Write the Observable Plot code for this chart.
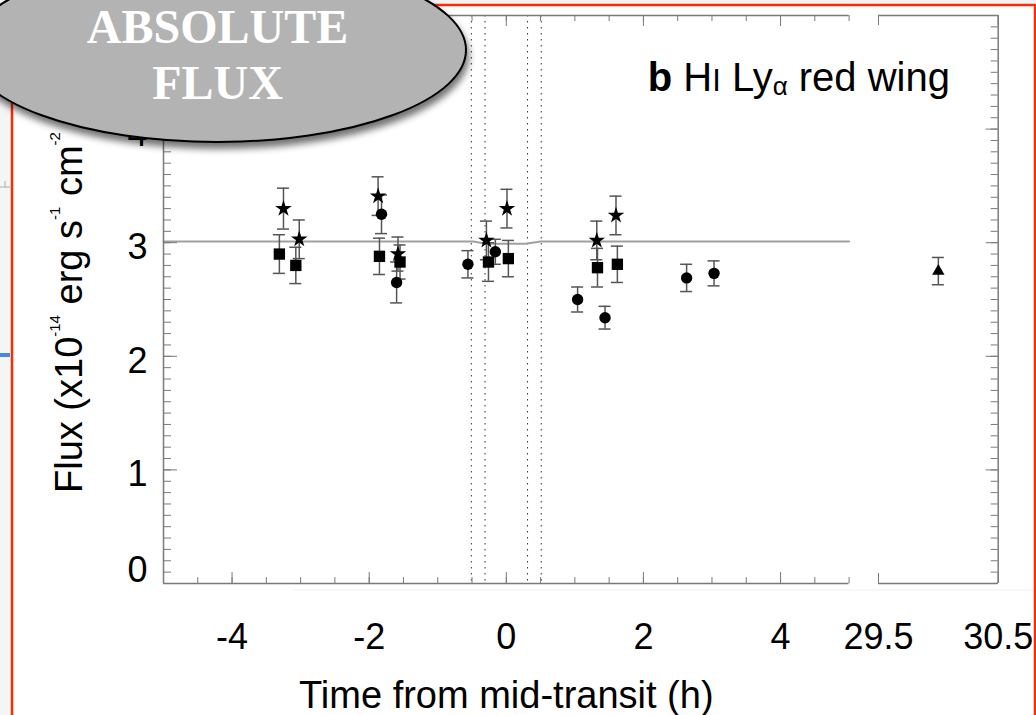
<!DOCTYPE html>
<html><head><meta charset="utf-8">
<script src="https://cdn.jsdelivr.net/npm/d3@7"></script>
<script src="https://cdn.jsdelivr.net/npm/@observablehq/plot@0.6"></script>
<style>
html,body{margin:0;padding:0;background:#fff;}
#wrap{position:relative;width:1036px;height:715px;overflow:hidden;background:#fff;}
#wrap > svg{position:absolute;left:0;top:0;}
</style></head><body><div id="wrap"></div>
<script>
// ---- data ----
const starTime   = [-3.25, -3.02, -1.87, -1.58, -0.29, 0.01, 1.32, 1.60];
const starFlux   = [3.30, 3.03, 3.41, 2.90, 3.02, 3.30, 3.02, 3.24];
const starErr    = [0.18, 0.17, 0.17, 0.15, 0.17, 0.17, 0.17, 0.17];
const squareTime = [-3.31, -3.07, -1.85, -1.55, -0.26, 0.03, 1.33, 1.62];
const squareFlux = [2.90, 2.80, 2.88, 2.83, 2.83, 2.86, 2.78, 2.81];
const squareErr  = [0.17, 0.16, 0.16, 0.15, 0.17, 0.16, 0.17, 0.16];
const circleTime = [-1.82, -1.60, -0.56, -0.16, 1.04, 1.44, 2.63, 3.03];
const circleFlux = [3.25, 2.65, 2.81, 2.92, 2.50, 2.34, 2.69, 2.73];
const circleErr  = [0.17, 0.18, 0.12, 0.11, 0.11, 0.10, 0.12, 0.11];
const triangleTime = [30.0];
const triangleFlux = [2.75];
const triangleErr  = [0.12];
const modelTime = [-5, -0.48, -0.30, 0.28, 0.50, 5];
const modelFlux = [3.01, 3.01, 2.99, 2.99, 3.01, 3.01];
const contactTimes = [-0.51, -0.31, 0.31, 0.51];
const xTickLabelsLeft = [-4, -2, 0, 2, 4];
const xTickLabelsRight = [29.5, 30.5];
const yTickLabels = [1, 2, 3, 4];
const yZeroLabel = [0];
const xTitle = "Time from mid-transit (h)";

// ---- tables ----
const mk = (T, F, E) => T.map((t, i) => ({t, f: F[i], e: E[i]}));
const stars = mk(starTime, starFlux, starErr);
const squares = mk(squareTime, squareFlux, squareErr);
const circles = mk(circleTime, circleFlux, circleErr);
const triangles = mk(triangleTime, triangleFlux, triangleErr);
const allLeft = [...stars, ...squares, ...circles];
const model = modelTime.map((t, i) => ({t, f: modelFlux[i]}));

const W = 1036, H = 715;
const AX = "#7a7a7a", EB = "#555";
const font = "'Liberation Sans', Arial, Helvetica, sans-serif";
const mT = 15, mB = 132;
const frameH = H - mT - mB;
const mLL = 163, mRL = 187.4, frameWL = W - mLL - mRL;
const mLR = 878, mRR = 38.3, frameWR = W - mLR - mRR;
const yMinor = d3.range(0, 5.001, 0.1).map(v => +v.toFixed(1));
const yMajor = [0, 1, 2, 3, 4, 5];
const xMinor = d3.range(-5, 5.001, 0.5);
const xMajor = [-4, -2, 0, 2, 4];

const errMarks = (data) => [
  Plot.ruleX(data, {x: "t", y1: d => d.f - d.e, y2: d => d.f + d.e, stroke: EB, strokeWidth: 1.5}),
  Plot.ruleY(data, {y: d => d.f - d.e, x1: "t", x2: "t", insetLeft: -6, insetRight: -6, stroke: EB, strokeWidth: 1.5}),
  Plot.ruleY(data, {y: d => d.f + d.e, x1: "t", x2: "t", insetLeft: -6, insetRight: -6, stroke: EB, strokeWidth: 1.5})
];

const left = Plot.plot({
  width: W, height: H,
  marginLeft: mLL, marginRight: mRL, marginTop: mT, marginBottom: mB,
  x: {domain: [-5, 5], axis: null},
  y: {domain: [0, 5], axis: null},
  style: {fontFamily: font, background: "transparent", color: "#000", overflow: "visible"},
  marks: [
    Plot.ruleX(contactTimes, {stroke: "#333", strokeDasharray: "1.5,4.5", strokeWidth: 1}),
    Plot.line(model, {x: "t", y: "f", stroke: "#a0a0a0", strokeWidth: 2}),
    Plot.ruleY([0, 5], {stroke: AX, strokeWidth: 1.5}),
    Plot.ruleX([-5], {stroke: AX, strokeWidth: 1.5}),
    Plot.tickY(yMinor, {stroke: AX, insetRight: frameWL - 8}),
    Plot.tickY(yMajor, {stroke: AX, insetRight: frameWL - 14}),
    Plot.tickX(xMinor, {stroke: AX, insetTop: frameH - 6}),
    Plot.tickX(xMajor, {stroke: AX, insetTop: frameH - 11}),
    Plot.tickX(xMinor, {stroke: AX, insetBottom: frameH - 6}),
    Plot.tickX(xMajor, {stroke: AX, insetBottom: frameH - 11}),
    ...errMarks(allLeft),
    Plot.dot(squares, {x: "t", y: "f", symbol: "square", r: 6.4, fill: "#000"}),
    Plot.dot(circles, {x: "t", y: "f", symbol: "circle", r: 5.7, fill: "#000"}),
    Plot.dot(stars, {x: "t", y: "f", symbol: "star", r: 5.2, fill: "#000"}),
    Plot.axisX(xTickLabelsLeft, {tickSize: 0, tickPadding: 40, fontSize: 36, tickFormat: d => String(d), label: null}),
    Plot.axisY(yTickLabels, {tickSize: 0, tickPadding: 16, fontSize: 36, dy: 5, tickFormat: d => String(d), label: null}),
    Plot.axisY(yZeroLabel, {tickSize: 0, tickPadding: 16, fontSize: 36, dy: -13, tickFormat: d => String(d), label: null}),
    Plot.text([xTitle], {frameAnchor: "bottom", text: d => d, dy: 112, fontSize: 38, lineAnchor: "middle", fill: "#000"})
  ]
});

const right = Plot.plot({
  width: W, height: H,
  marginLeft: mLR, marginRight: mRR, marginTop: mT, marginBottom: mB,
  x: {domain: [29.5, 30.5], axis: null},
  y: {domain: [0, 5], axis: null},
  style: {fontFamily: font, background: "transparent", color: "#000", overflow: "visible"},
  marks: [
    Plot.ruleY([0, 5], {stroke: AX, strokeWidth: 1.5}),
    Plot.ruleX([30.5], {stroke: AX, strokeWidth: 1.5}),
    Plot.tickY(yMinor, {stroke: AX, insetLeft: frameWR - 7}),
    Plot.tickY(yMajor, {stroke: AX, insetLeft: frameWR - 12}),
    Plot.tickX(xTickLabelsRight, {stroke: AX, insetTop: frameH - 10}),
    Plot.tickX(xTickLabelsRight, {stroke: AX, insetBottom: frameH - 10}),
    ...errMarks(triangles),
    Plot.dot(triangles, {x: "t", y: "f", symbol: "triangle", r: 4.6, fill: "#000"}),
    Plot.axisX(xTickLabelsRight, {tickSize: 0, tickPadding: 40, fontSize: 36, tickFormat: d => d.toFixed(1), label: null})
  ]
});

// y label with superscripts, and panel title
const sL = d3.select(left);
const yl = sL.append("text")
  .attr("transform", "translate(82,493) rotate(-90)")
  .attr("text-anchor", "start")
  .attr("font-size", 38).attr("fill", "#000").attr("font-family", font);
const parts = [["Flux (x10", 0], ["-14", 1], [" erg s", 0], ["-1", 1], [" cm", 0], ["-2", 1], [" Å", 0], ["-1", 1], [")", 0]];
let raised = false;
for (const [txt, sup] of parts) {
  const ts = yl.append("tspan").text(txt);
  if (sup) { ts.attr("font-size", 15).attr("dy", -22); raised = true; }
  else if (raised) { ts.attr("dy", 22); raised = false; }
}
const tt = sL.append("text")
  .attr("x", 950).attr("y", 91).attr("text-anchor", "end")
  .attr("font-size", 40).attr("fill", "#000").attr("font-family", font);
tt.append("tspan").attr("font-weight", "bold").text("b");
tt.append("tspan").text(" H");
tt.append("tspan").attr("font-size", 31).text("I");
tt.append("tspan").text(" Ly");
tt.append("tspan").attr("font-size", 26).attr("dy", 4).text("α");
tt.append("tspan").attr("dy", -4).text(" red wing");

const wrap = document.getElementById("wrap");
wrap.appendChild(left);
wrap.appendChild(right);

// slide decorations: red frame, side strip, badge
const deco = d3.select(wrap).append("svg").attr("width", W).attr("height", H);
const defs = deco.append("defs");
const f = defs.append("filter").attr("id", "shadow").attr("x", "-20%").attr("y", "-20%").attr("width", "140%").attr("height", "170%");
f.append("feGaussianBlur").attr("in", "SourceAlpha").attr("stdDeviation", 3.5);
f.append("feOffset").attr("dx", 2).attr("dy", 6).attr("result", "ob");
f.append("feComponentTransfer").append("feFuncA").attr("type", "linear").attr("slope", 0.55);
const fm = f.append("feMerge");
fm.append("feMergeNode");
fm.append("feMergeNode").attr("in", "SourceGraphic");

deco.append("rect").attr("x", 0).attr("y", 0).attr("width", 11).attr("height", H).attr("fill", "#f5f5f5");
deco.append("rect").attr("x", 0).attr("y", 0).attr("width", W).attr("height", 4).attr("fill", "#f3f3f3");
deco.append("line").attr("x1", 293).attr("x2", 1034).attr("y1", 590).attr("y2", 590).attr("stroke", "#f0f0f0").attr("stroke-width", 1);
deco.append("line").attr("x1", 0).attr("x2", 10).attr("y1", 187).attr("y2", 187).attr("stroke", "#aaa");
deco.append("line").attr("x1", 5).attr("x2", 5).attr("y1", 181).attr("y2", 187).attr("stroke", "#aaa");
deco.append("rect").attr("x", 0).attr("y", 353).attr("width", 10).attr("height", 4).attr("fill", "#4a86e8");
deco.append("path").attr("d", "M12,715 L12,5 L1035,5 L1035,715").attr("fill", "none").attr("stroke", "#ff2a00").attr("stroke-width", 2.5);

deco.append("ellipse").attr("cx", 217).attr("cy", 50).attr("rx", 249).attr("ry", 92)
  .attr("fill", "#b3b3b3").attr("stroke", "#000").attr("stroke-width", 2).attr("filter", "url(#shadow)");
const badge = deco.append("text").attr("text-anchor", "middle").attr("fill", "#fff")
  .attr("font-family", "'Liberation Serif', 'DejaVu Serif', serif").attr("font-weight", "bold").attr("font-size", 48);
badge.append("tspan").attr("x", 217.5).attr("y", 43).text("ABSOLUTE");
badge.append("tspan").attr("x", 217.5).attr("y", 99).text("FLUX");
</script></body></html>
